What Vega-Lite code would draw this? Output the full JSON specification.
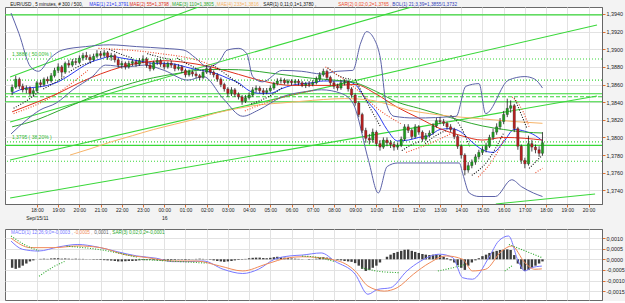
{
"$schema":"https://vega.github.io/schema/vega-lite/v6.json",
"background":"#f3f3f3",
"padding":{"left":3,"top":1,"right":0,"bottom":0},
"spacing":7,
"config":{"font":"Liberation Sans","view":{"stroke":"#6a6a6a","fill":"#ffffff"},
 "axis":{"labelOverlap":false,"labelBound":false,"labelFlush":false,"labelFontSize":5.4,"labelColor":"#222222","tickColor":"#e07030","tickSize":3,"gridColor":"#e2e2e2","domainColor":"#666666","labelPadding":1,"grid":true},
 "axisX":{"labelFontSize":5,"labelPadding":0,"labelLineHeight":8}},
"resolve":{"scale":{"color":"independent","x":"independent","y":"independent"}},
"datasets":{
"bars":[
{"t":16.83,"o":1.3852,"h":1.3860,"l":1.3848,"c":1.3857,"m":-0.0004},
{"t":17,"o":1.3857,"h":1.3870,"l":1.3855,"c":1.3866,"m":-0.00045},
{"t":17.17,"o":1.3866,"h":1.3868,"l":1.3855,"c":1.3858,"m":-0.0004},
{"t":17.33,"o":1.3858,"h":1.3861,"l":1.3851,"c":1.3854,"m":-0.0003},
{"t":17.5,"o":1.3854,"h":1.3859,"l":1.3850,"c":1.3856,"m":-0.0002},
{"t":17.67,"o":1.3856,"h":1.3858,"l":1.3847,"c":1.3850,"m":-0.0001},
{"t":17.83,"o":1.3850,"h":1.3856,"l":1.3846,"c":1.3853,"m":-0.00005},
{"t":18,"o":1.3853,"h":1.3864,"l":1.3851,"c":1.3862,"m":0},
{"t":18.17,"o":1.3862,"h":1.3865,"l":1.3857,"c":1.3860,"m":0.00002},
{"t":18.33,"o":1.3860,"h":1.3868,"l":1.3858,"c":1.3866,"m":0.00003},
{"t":18.5,"o":1.3866,"h":1.3869,"l":1.3861,"c":1.3864,"m":0.00002},
{"t":18.67,"o":1.3864,"h":1.3873,"l":1.3862,"c":1.3870,"m":0.00004},
{"t":18.83,"o":1.3870,"h":1.3879,"l":1.3868,"c":1.3876,"m":0.00005},
{"t":19,"o":1.3876,"h":1.3884,"l":1.3873,"c":1.3880,"m":0.00005},
{"t":19.17,"o":1.3880,"h":1.3882,"l":1.3868,"c":1.3874,"m":0.00003},
{"t":19.33,"o":1.3874,"h":1.3886,"l":1.3872,"c":1.3884,"m":0.00004},
{"t":19.5,"o":1.3884,"h":1.3888,"l":1.3879,"c":1.3882,"m":0.00003},
{"t":19.67,"o":1.3882,"h":1.3889,"l":1.3880,"c":1.3886,"m":0.00002},
{"t":19.83,"o":1.3886,"h":1.3890,"l":1.3882,"c":1.3885,"m":0.00003},
{"t":20,"o":1.3885,"h":1.3893,"l":1.3883,"c":1.3890,"m":0.00002},
{"t":20.17,"o":1.3890,"h":1.3896,"l":1.3887,"c":1.3893,"m":0.00002},
{"t":20.33,"o":1.3893,"h":1.3897,"l":1.3888,"c":1.3891,"m":0.00001},
{"t":20.5,"o":1.3891,"h":1.3894,"l":1.3885,"c":1.3888,"m":-0.00001},
{"t":20.67,"o":1.3888,"h":1.3895,"l":1.3886,"c":1.3892,"m":-0.00002},
{"t":20.83,"o":1.3892,"h":1.3899,"l":1.3890,"c":1.3895,"m":-0.00002},
{"t":21,"o":1.3895,"h":1.3898,"l":1.3890,"c":1.3893,"m":-0.00003},
{"t":21.17,"o":1.3893,"h":1.3899,"l":1.3891,"c":1.3896,"m":-0.00004},
{"t":21.33,"o":1.3896,"h":1.3898,"l":1.3888,"c":1.3891,"m":-0.00005},
{"t":21.5,"o":1.3891,"h":1.3896,"l":1.3887,"c":1.3893,"m":-0.00006},
{"t":21.67,"o":1.3893,"h":1.3895,"l":1.3885,"c":1.3888,"m":-0.00008},
{"t":21.83,"o":1.3888,"h":1.3890,"l":1.3879,"c":1.3882,"m":-0.0001},
{"t":22,"o":1.3882,"h":1.3887,"l":1.3878,"c":1.3884,"m":-0.0001},
{"t":22.17,"o":1.3884,"h":1.3886,"l":1.3877,"c":1.3880,"m":-0.00009},
{"t":22.33,"o":1.3880,"h":1.3887,"l":1.3878,"c":1.3884,"m":-0.00008},
{"t":22.5,"o":1.3884,"h":1.3889,"l":1.3881,"c":1.3886,"m":-0.00008},
{"t":22.67,"o":1.3886,"h":1.3888,"l":1.3880,"c":1.3883,"m":-0.00007},
{"t":22.83,"o":1.3883,"h":1.3890,"l":1.3881,"c":1.3887,"m":-0.00005},
{"t":23,"o":1.3887,"h":1.3893,"l":1.3884,"c":1.3889,"m":-0.00004},
{"t":23.17,"o":1.3889,"h":1.3891,"l":1.3879,"c":1.3882,"m":-0.00004},
{"t":23.33,"o":1.3882,"h":1.3885,"l":1.3875,"c":1.3878,"m":-0.00003},
{"t":23.5,"o":1.3878,"h":1.3887,"l":1.3876,"c":1.3885,"m":-0.00004},
{"t":23.67,"o":1.3885,"h":1.3890,"l":1.3882,"c":1.3887,"m":-0.00005},
{"t":23.83,"o":1.3887,"h":1.3889,"l":1.3880,"c":1.3883,"m":-0.00006},
{"t":24,"o":1.3883,"h":1.3886,"l":1.3877,"c":1.3880,"m":-0.00006},
{"t":24.17,"o":1.3880,"h":1.3886,"l":1.3878,"c":1.3884,"m":-0.00005},
{"t":24.33,"o":1.3884,"h":1.3887,"l":1.3879,"c":1.3882,"m":-0.00004},
{"t":24.5,"o":1.3882,"h":1.3884,"l":1.3875,"c":1.3878,"m":-0.00003},
{"t":24.67,"o":1.3878,"h":1.3883,"l":1.3876,"c":1.3880,"m":-0.00002},
{"t":24.83,"o":1.3880,"h":1.3882,"l":1.3873,"c":1.3876,"m":-0.00002},
{"t":25,"o":1.3876,"h":1.3878,"l":1.3868,"c":1.3871,"m":-0.00003},
{"t":25.17,"o":1.3871,"h":1.3877,"l":1.3869,"c":1.3874,"m":-0.00002},
{"t":25.33,"o":1.3874,"h":1.3876,"l":1.3869,"c":1.3872,"m":0.00001},
{"t":25.5,"o":1.3872,"h":1.3875,"l":1.3867,"c":1.3870,"m":0.00002},
{"t":25.67,"o":1.3870,"h":1.3872,"l":1.3865,"c":1.3868,"m":0.00003},
{"t":25.83,"o":1.3868,"h":1.3877,"l":1.3866,"c":1.3874,"m":0.00002},
{"t":26,"o":1.3874,"h":1.3882,"l":1.3872,"c":1.3878,"m":0.00001},
{"t":26.17,"o":1.3878,"h":1.3880,"l":1.3871,"c":1.3874,"m":-0.00002},
{"t":26.33,"o":1.3874,"h":1.3876,"l":1.3868,"c":1.3871,"m":-0.00005},
{"t":26.5,"o":1.3871,"h":1.3873,"l":1.3863,"c":1.3866,"m":-0.00008},
{"t":26.67,"o":1.3866,"h":1.3868,"l":1.3857,"c":1.3860,"m":-0.0001},
{"t":26.83,"o":1.3860,"h":1.3862,"l":1.3852,"c":1.3855,"m":-0.00012},
{"t":27,"o":1.3855,"h":1.3857,"l":1.3846,"c":1.3850,"m":-0.0001},
{"t":27.17,"o":1.3850,"h":1.3857,"l":1.3847,"c":1.3854,"m":-0.00008},
{"t":27.33,"o":1.3854,"h":1.3856,"l":1.3846,"c":1.3849,"m":-0.00005},
{"t":27.5,"o":1.3849,"h":1.3851,"l":1.3843,"c":1.3846,"m":-0.00003},
{"t":27.67,"o":1.3846,"h":1.3848,"l":1.3837,"c":1.3841,"m":-0.00002},
{"t":27.83,"o":1.3841,"h":1.3848,"l":1.3839,"c":1.3845,"m":0.00002},
{"t":28,"o":1.3845,"h":1.3851,"l":1.3843,"c":1.3848,"m":0.00005},
{"t":28.17,"o":1.3848,"h":1.3857,"l":1.3846,"c":1.3854,"m":0.00007},
{"t":28.33,"o":1.3854,"h":1.3859,"l":1.3851,"c":1.3856,"m":0.00008},
{"t":28.5,"o":1.3856,"h":1.3858,"l":1.3850,"c":1.3853,"m":0.00008},
{"t":28.67,"o":1.3853,"h":1.3856,"l":1.3848,"c":1.3851,"m":0.00006},
{"t":28.83,"o":1.3851,"h":1.3856,"l":1.3849,"c":1.3853,"m":0.00005},
{"t":29,"o":1.3853,"h":1.3859,"l":1.3851,"c":1.3856,"m":0.00007},
{"t":29.17,"o":1.3856,"h":1.3863,"l":1.3854,"c":1.3861,"m":0.0001},
{"t":29.33,"o":1.3861,"h":1.3867,"l":1.3859,"c":1.3864,"m":0.00012},
{"t":29.5,"o":1.3864,"h":1.3868,"l":1.3861,"c":1.3865,"m":0.0001},
{"t":29.67,"o":1.3865,"h":1.3867,"l":1.3860,"c":1.3862,"m":0.00008},
{"t":29.83,"o":1.3862,"h":1.3866,"l":1.3860,"c":1.3864,"m":0.00006},
{"t":30,"o":1.3864,"h":1.3866,"l":1.3859,"c":1.3862,"m":0.00004},
{"t":30.17,"o":1.3862,"h":1.3866,"l":1.3860,"c":1.3864,"m":0.00003},
{"t":30.33,"o":1.3864,"h":1.3866,"l":1.3859,"c":1.3862,"m":0.00002},
{"t":30.5,"o":1.3862,"h":1.3864,"l":1.3857,"c":1.3859,"m":0.00001},
{"t":30.67,"o":1.3859,"h":1.3863,"l":1.3856,"c":1.3861,"m":0},
{"t":30.83,"o":1.3861,"h":1.3864,"l":1.3857,"c":1.3860,"m":-0.00002},
{"t":31,"o":1.3860,"h":1.3865,"l":1.3858,"c":1.3862,"m":-0.00001},
{"t":31.17,"o":1.3862,"h":1.3869,"l":1.3860,"c":1.3866,"m":0.00003},
{"t":31.33,"o":1.3866,"h":1.3874,"l":1.3864,"c":1.3871,"m":0.00008},
{"t":31.5,"o":1.3871,"h":1.3878,"l":1.3869,"c":1.3875,"m":0.0001},
{"t":31.67,"o":1.3875,"h":1.3877,"l":1.3865,"c":1.3868,"m":0.00008},
{"t":31.83,"o":1.3868,"h":1.3870,"l":1.3859,"c":1.3862,"m":0.00004},
{"t":32,"o":1.3862,"h":1.3864,"l":1.3855,"c":1.3858,"m":0},
{"t":32.17,"o":1.3858,"h":1.3861,"l":1.3853,"c":1.3856,"m":-0.00003},
{"t":32.33,"o":1.3856,"h":1.3865,"l":1.3854,"c":1.3862,"m":-0.00005},
{"t":32.5,"o":1.3862,"h":1.3866,"l":1.3859,"c":1.3863,"m":-0.00008},
{"t":32.67,"o":1.3863,"h":1.3865,"l":1.3852,"c":1.3855,"m":-0.0001},
{"t":32.83,"o":1.3855,"h":1.3857,"l":1.3845,"c":1.3848,"m":-0.00012},
{"t":33,"o":1.3848,"h":1.3850,"l":1.3836,"c":1.3839,"m":-0.00018},
{"t":33.17,"o":1.3839,"h":1.3841,"l":1.3823,"c":1.3826,"m":-0.0003},
{"t":33.33,"o":1.3826,"h":1.3828,"l":1.3805,"c":1.3808,"m":-0.00045},
{"t":33.5,"o":1.3808,"h":1.3811,"l":1.3794,"c":1.3799,"m":-0.00055},
{"t":33.67,"o":1.3799,"h":1.3804,"l":1.3792,"c":1.3797,"m":-0.0005},
{"t":33.83,"o":1.3797,"h":1.3810,"l":1.3794,"c":1.3806,"m":-0.0004},
{"t":34,"o":1.3806,"h":1.3808,"l":1.3790,"c":1.3793,"m":-0.0003},
{"t":34.17,"o":1.3793,"h":1.3797,"l":1.3785,"c":1.3789,"m":-0.00015},
{"t":34.33,"o":1.3789,"h":1.3800,"l":1.3787,"c":1.3797,"m":0},
{"t":34.5,"o":1.3797,"h":1.3800,"l":1.3790,"c":1.3794,"m":0.00012},
{"t":34.67,"o":1.3794,"h":1.3797,"l":1.3788,"c":1.3792,"m":0.00022},
{"t":34.83,"o":1.3792,"h":1.3795,"l":1.3785,"c":1.3789,"m":0.0003},
{"t":35,"o":1.3789,"h":1.3794,"l":1.3786,"c":1.3791,"m":0.00035},
{"t":35.17,"o":1.3791,"h":1.3801,"l":1.3789,"c":1.3798,"m":0.0004},
{"t":35.33,"o":1.3798,"h":1.3815,"l":1.3796,"c":1.3812,"m":0.00045},
{"t":35.5,"o":1.3812,"h":1.3815,"l":1.3805,"c":1.3808,"m":0.00046},
{"t":35.67,"o":1.3808,"h":1.3810,"l":1.3798,"c":1.3801,"m":0.0004},
{"t":35.83,"o":1.3801,"h":1.3815,"l":1.3799,"c":1.3812,"m":0.00035},
{"t":36,"o":1.3812,"h":1.3814,"l":1.3803,"c":1.3806,"m":0.0003},
{"t":36.17,"o":1.3806,"h":1.3808,"l":1.3795,"c":1.3798,"m":0.00025},
{"t":36.33,"o":1.3798,"h":1.3805,"l":1.3796,"c":1.3802,"m":0.00022},
{"t":36.5,"o":1.3802,"h":1.3808,"l":1.3800,"c":1.3805,"m":0.0002},
{"t":36.67,"o":1.3805,"h":1.3816,"l":1.3803,"c":1.3813,"m":0.00022},
{"t":36.83,"o":1.3813,"h":1.3822,"l":1.3811,"c":1.3819,"m":0.00024},
{"t":37,"o":1.3819,"h":1.3823,"l":1.3815,"c":1.3818,"m":0.0002},
{"t":37.17,"o":1.3818,"h":1.3821,"l":1.3813,"c":1.3816,"m":0.00012},
{"t":37.33,"o":1.3816,"h":1.3818,"l":1.3809,"c":1.3812,"m":0.00005},
{"t":37.5,"o":1.3812,"h":1.3815,"l":1.3806,"c":1.3809,"m":-0.00005},
{"t":37.67,"o":1.3809,"h":1.3811,"l":1.3798,"c":1.3801,"m":-0.00015},
{"t":37.83,"o":1.3801,"h":1.3803,"l":1.3787,"c":1.3790,"m":-0.00028},
{"t":38,"o":1.3790,"h":1.3792,"l":1.3776,"c":1.3780,"m":-0.0004},
{"t":38.17,"o":1.3780,"h":1.3782,"l":1.3757,"c":1.3763,"m":-0.0005},
{"t":38.33,"o":1.3763,"h":1.3772,"l":1.3760,"c":1.3768,"m":-0.0003},
{"t":38.5,"o":1.3768,"h":1.3775,"l":1.3765,"c":1.3772,"m":-0.00015},
{"t":38.67,"o":1.3772,"h":1.3781,"l":1.3769,"c":1.3778,"m":-0.00005},
{"t":38.83,"o":1.3778,"h":1.3786,"l":1.3775,"c":1.3783,"m":0.00005},
{"t":39,"o":1.3783,"h":1.3790,"l":1.3780,"c":1.3786,"m":0.00015},
{"t":39.17,"o":1.3786,"h":1.3794,"l":1.3783,"c":1.3790,"m":0.00022},
{"t":39.33,"o":1.3790,"h":1.3803,"l":1.3788,"c":1.3800,"m":0.0003},
{"t":39.5,"o":1.3800,"h":1.3810,"l":1.3797,"c":1.3806,"m":0.00036},
{"t":39.67,"o":1.3806,"h":1.3816,"l":1.3803,"c":1.3812,"m":0.0004},
{"t":39.83,"o":1.3812,"h":1.3822,"l":1.3809,"c":1.3818,"m":0.00044},
{"t":40,"o":1.3818,"h":1.3830,"l":1.3815,"c":1.3826,"m":0.00046},
{"t":40.17,"o":1.3826,"h":1.3844,"l":1.3823,"c":1.3833,"m":0.00047},
{"t":40.33,"o":1.3833,"h":1.3842,"l":1.3828,"c":1.3836,"m":0.00044},
{"t":40.5,"o":1.3836,"h":1.3838,"l":1.3806,"c":1.3810,"m":0.0002},
{"t":40.67,"o":1.3810,"h":1.3812,"l":1.3786,"c":1.3790,"m":-0.0002},
{"t":40.83,"o":1.3790,"h":1.3792,"l":1.3770,"c":1.3774,"m":-0.00045},
{"t":41,"o":1.3774,"h":1.3777,"l":1.3765,"c":1.3770,"m":-0.00055},
{"t":41.17,"o":1.3770,"h":1.3802,"l":1.3768,"c":1.3793,"m":-0.0005},
{"t":41.33,"o":1.3793,"h":1.3797,"l":1.3784,"c":1.3789,"m":-0.0004},
{"t":41.5,"o":1.3789,"h":1.3792,"l":1.3782,"c":1.3786,"m":-0.0003},
{"t":41.67,"o":1.3786,"h":1.3790,"l":1.3778,"c":1.3782,"m":-0.0002},
{"t":41.83,"o":1.3782,"h":1.3806,"l":1.3780,"c":1.3794,"m":-0.0001}
],
"ind":[
{"s":"MA21","t":16.83,"v":1.3850},{"s":"MA21","t":17.5,"v":1.3856},{"s":"MA21","t":18,"v":1.3857},{"s":"MA21","t":18.5,"v":1.3859},{"s":"MA21","t":19,"v":1.3863},{"s":"MA21","t":19.5,"v":1.3870},{"s":"MA21","t":20,"v":1.3878},{"s":"MA21","t":20.5,"v":1.3885},{"s":"MA21","t":21,"v":1.3889},{"s":"MA21","t":21.5,"v":1.3892},{"s":"MA21","t":22,"v":1.3890},{"s":"MA21","t":22.5,"v":1.3888},{"s":"MA21","t":23,"v":1.3886},{"s":"MA21","t":23.5,"v":1.3884},{"s":"MA21","t":24,"v":1.3884},{"s":"MA21","t":24.5,"v":1.3883},{"s":"MA21","t":25,"v":1.3880},{"s":"MA21","t":25.5,"v":1.3877},{"s":"MA21","t":26,"v":1.3875},{"s":"MA21","t":26.5,"v":1.3872},{"s":"MA21","t":27,"v":1.3867},{"s":"MA21","t":27.5,"v":1.3862},{"s":"MA21","t":28,"v":1.3853},{"s":"MA21","t":28.5,"v":1.3850},{"s":"MA21","t":29,"v":1.3850},{"s":"MA21","t":29.5,"v":1.3855},{"s":"MA21","t":30,"v":1.3859},{"s":"MA21","t":30.5,"v":1.3861},{"s":"MA21","t":31,"v":1.3862},{"s":"MA21","t":31.5,"v":1.3864},{"s":"MA21","t":32,"v":1.3864},{"s":"MA21","t":32.5,"v":1.3864},{"s":"MA21","t":33,"v":1.3860},{"s":"MA21","t":33.5,"v":1.3843},{"s":"MA21","t":34,"v":1.3829},{"s":"MA21","t":34.5,"v":1.3809},{"s":"MA21","t":35,"v":1.3796},{"s":"MA21","t":35.5,"v":1.3797},{"s":"MA21","t":36,"v":1.3800},{"s":"MA21","t":36.5,"v":1.3802},{"s":"MA21","t":37,"v":1.3809},{"s":"MA21","t":37.5,"v":1.3810},{"s":"MA21","t":38,"v":1.3806},{"s":"MA21","t":38.5,"v":1.3795},{"s":"MA21","t":39,"v":1.3786},{"s":"MA21","t":39.5,"v":1.3783},{"s":"MA21","t":40,"v":1.3795},{"s":"MA21","t":40.5,"v":1.3809},{"s":"MA21","t":41,"v":1.3807},{"s":"MA21","t":41.5,"v":1.3802},{"s":"MA21","t":41.83,"v":1.3796},
{"s":"MA55","t":16.83,"v":1.3829},{"s":"MA55","t":18,"v":1.3840},{"s":"MA55","t":19,"v":1.3850},{"s":"MA55","t":20,"v":1.3862},{"s":"MA55","t":21,"v":1.3872},{"s":"MA55","t":22,"v":1.3880},{"s":"MA55","t":23,"v":1.3885},{"s":"MA55","t":24,"v":1.3887},{"s":"MA55","t":25,"v":1.3885},{"s":"MA55","t":26,"v":1.3881},{"s":"MA55","t":27,"v":1.3875},{"s":"MA55","t":28,"v":1.3868},{"s":"MA55","t":29,"v":1.3862},{"s":"MA55","t":30,"v":1.3859},{"s":"MA55","t":31,"v":1.3859},{"s":"MA55","t":32,"v":1.3859},{"s":"MA55","t":33,"v":1.3860},{"s":"MA55","t":34,"v":1.3849},{"s":"MA55","t":35,"v":1.3834},{"s":"MA55","t":36,"v":1.3822},{"s":"MA55","t":37,"v":1.3810},{"s":"MA55","t":38,"v":1.3802},{"s":"MA55","t":39,"v":1.3797},{"s":"MA55","t":40,"v":1.3800},{"s":"MA55","t":41,"v":1.3799},{"s":"MA55","t":41.83,"v":1.3797},
{"s":"MA110","t":16.83,"v":1.3812},{"s":"MA110","t":18,"v":1.3820},{"s":"MA110","t":19,"v":1.3830},{"s":"MA110","t":20,"v":1.3840},{"s":"MA110","t":21,"v":1.3850},{"s":"MA110","t":22,"v":1.3858},{"s":"MA110","t":23,"v":1.3865},{"s":"MA110","t":24,"v":1.3870},{"s":"MA110","t":25,"v":1.3874},{"s":"MA110","t":26,"v":1.3877},{"s":"MA110","t":27,"v":1.3877},{"s":"MA110","t":28,"v":1.3876},{"s":"MA110","t":29,"v":1.3873},{"s":"MA110","t":30,"v":1.3870},{"s":"MA110","t":31,"v":1.3867},{"s":"MA110","t":32,"v":1.3865},{"s":"MA110","t":33,"v":1.3862},{"s":"MA110","t":34,"v":1.3852},{"s":"MA110","t":35,"v":1.3840},{"s":"MA110","t":36,"v":1.3833},{"s":"MA110","t":37,"v":1.3826},{"s":"MA110","t":38,"v":1.3819},{"s":"MA110","t":39,"v":1.3813},{"s":"MA110","t":40,"v":1.3809},{"s":"MA110","t":41,"v":1.3806},{"s":"MA110","t":41.83,"v":1.3805},
{"s":"MA233","t":19.56,"v":1.3780},{"s":"MA233","t":20.5,"v":1.3787},{"s":"MA233","t":21.5,"v":1.3795},{"s":"MA233","t":22.5,"v":1.3802},{"s":"MA233","t":23.5,"v":1.3809},{"s":"MA233","t":24.5,"v":1.3815},{"s":"MA233","t":25.5,"v":1.3821},{"s":"MA233","t":26.5,"v":1.3828},{"s":"MA233","t":27.5,"v":1.3833},{"s":"MA233","t":28.5,"v":1.3837},{"s":"MA233","t":29.5,"v":1.3839},{"s":"MA233","t":30.5,"v":1.3841},{"s":"MA233","t":31.5,"v":1.3843},{"s":"MA233","t":32.5,"v":1.3844},{"s":"MA233","t":33.5,"v":1.3843},{"s":"MA233","t":34.5,"v":1.3838},{"s":"MA233","t":35.5,"v":1.3831},{"s":"MA233","t":36.5,"v":1.3827},{"s":"MA233","t":37.5,"v":1.3824},{"s":"MA233","t":38.5,"v":1.3822},{"s":"MA233","t":39.5,"v":1.3820},{"s":"MA233","t":40.5,"v":1.3818},{"s":"MA233","t":41.83,"v":1.3816},
{"s":"BBU","t":16.78,"v":1.3941},{"s":"BBU","t":17.15,"v":1.3918},{"s":"BBU","t":17.7,"v":1.3880},{"s":"BBU","t":18.07,"v":1.3875},{"s":"BBU","t":18.63,"v":1.3890},{"s":"BBU","t":19.19,"v":1.3899},{"s":"BBU","t":20.3,"v":1.3903},{"s":"BBU","t":21.41,"v":1.3905},{"s":"BBU","t":22.7,"v":1.3903},{"s":"BBU","t":24,"v":1.3901},{"s":"BBU","t":24.93,"v":1.3899},{"s":"BBU","t":25.48,"v":1.3890},{"s":"BBU","t":26.04,"v":1.3880},{"s":"BBU","t":26.59,"v":1.3886},{"s":"BBU","t":26.96,"v":1.3899},{"s":"BBU","t":27.52,"v":1.3901},{"s":"BBU","t":27.89,"v":1.3895},{"s":"BBU","t":28.17,"v":1.3869},{"s":"BBU","t":28.63,"v":1.3863},{"s":"BBU","t":29.56,"v":1.3876},{"s":"BBU","t":30.48,"v":1.3875},{"s":"BBU","t":31.41,"v":1.3872},{"s":"BBU","t":32.15,"v":1.3875},{"s":"BBU","t":32.89,"v":1.3876},{"s":"BBU","t":33.26,"v":1.3907},{"s":"BBU","t":33.54,"v":1.3920},{"s":"BBU","t":33.91,"v":1.3911},{"s":"BBU","t":34.2,"v":1.3888},{"s":"BBU","t":34.45,"v":1.3840},{"s":"BBU","t":34.83,"v":1.3824},{"s":"BBU","t":35.83,"v":1.3822},{"s":"BBU","t":37.76,"v":1.3824},{"s":"BBU","t":38.22,"v":1.3858},{"s":"BBU","t":38.84,"v":1.3861},{"s":"BBU","t":39.15,"v":1.3827},{"s":"BBU","t":40.23,"v":1.3865},{"s":"BBU","t":41.0,"v":1.3869},{"s":"BBU","t":41.47,"v":1.3866},{"s":"BBU","t":41.83,"v":1.3856},
{"s":"BBL","t":16.78,"v":1.3804},{"s":"BBL","t":17.52,"v":1.3820},{"s":"BBL","t":18.14,"v":1.3831},{"s":"BBL","t":18.91,"v":1.3839},{"s":"BBL","t":19.69,"v":1.3854},{"s":"BBL","t":20.61,"v":1.3869},{"s":"BBL","t":21.23,"v":1.3882},{"s":"BBL","t":22.2,"v":1.3880},{"s":"BBL","t":23.07,"v":1.3882},{"s":"BBL","t":24,"v":1.3876},{"s":"BBL","t":25.11,"v":1.3865},{"s":"BBL","t":25.85,"v":1.3869},{"s":"BBL","t":26.78,"v":1.3844},{"s":"BBL","t":27.7,"v":1.3824},{"s":"BBL","t":28.44,"v":1.3831},{"s":"BBL","t":29.56,"v":1.3846},{"s":"BBL","t":30.67,"v":1.3852},{"s":"BBL","t":31.41,"v":1.3854},{"s":"BBL","t":32.33,"v":1.3850},{"s":"BBL","t":32.89,"v":1.3839},{"s":"BBL","t":33.63,"v":1.3774},{"s":"BBL","t":34.09,"v":1.3737},{"s":"BBL","t":34.51,"v":1.3767},{"s":"BBL","t":35,"v":1.3771},{"s":"BBL","t":37.91,"v":1.3771},{"s":"BBL","t":38.07,"v":1.3759},{"s":"BBL","t":38.38,"v":1.3737},{"s":"BBL","t":38.84,"v":1.3733},{"s":"BBL","t":39.61,"v":1.3733},{"s":"BBL","t":40.38,"v":1.3752},{"s":"BBL","t":40.85,"v":1.3744},{"s":"BBL","t":41.4,"v":1.3737},{"s":"BBL","t":41.83,"v":1.3733}
],
"sar":[
{"s":"SAR1","g":1,"t":16.9,"v":1.3833},{"s":"SAR1","g":1,"t":17.6,"v":1.3843},{"s":"SAR1","g":1,"t":18.1,"v":1.3852},
{"s":"SAR1","g":2,"t":18.3,"v":1.3855},{"s":"SAR1","g":2,"t":18.9,"v":1.3863},{"s":"SAR1","g":2,"t":19.3,"v":1.3869},
{"s":"SAR1","g":3,"t":19.5,"v":1.3874},{"s":"SAR1","g":3,"t":20.1,"v":1.3882},{"s":"SAR1","g":3,"t":20.6,"v":1.3885},
{"s":"SAR1","g":4,"t":21.4,"v":1.3900},{"s":"SAR1","g":4,"t":22,"v":1.3894},{"s":"SAR1","g":4,"t":22.5,"v":1.3890},
{"s":"SAR1","g":5,"t":23.2,"v":1.3895},{"s":"SAR1","g":5,"t":23.8,"v":1.3891},{"s":"SAR1","g":5,"t":24.4,"v":1.3888},
{"s":"SAR1","g":6,"t":24.6,"v":1.3890},{"s":"SAR1","g":6,"t":25.2,"v":1.3882},{"s":"SAR1","g":6,"t":25.7,"v":1.3876},
{"s":"SAR1","g":7,"t":26.3,"v":1.3882},{"s":"SAR1","g":7,"t":27,"v":1.3870},{"s":"SAR1","g":7,"t":27.7,"v":1.3857},
{"s":"SAR1","g":8,"t":28.1,"v":1.3838},{"s":"SAR1","g":8,"t":28.9,"v":1.3846},{"s":"SAR1","g":8,"t":29.6,"v":1.3857},
{"s":"SAR1","g":9,"t":31.7,"v":1.3879},{"s":"SAR1","g":9,"t":32.3,"v":1.3869},{"s":"SAR1","g":9,"t":32.8,"v":1.3866},
{"s":"SAR1","g":10,"t":33,"v":1.3866},{"s":"SAR1","g":10,"t":33.6,"v":1.3838},{"s":"SAR1","g":10,"t":34.2,"v":1.3812},
{"s":"SAR1","g":11,"t":35.2,"v":1.3785},{"s":"SAR1","g":11,"t":35.6,"v":1.3791},{"s":"SAR1","g":11,"t":36,"v":1.3795},
{"s":"SAR1","g":12,"t":36.3,"v":1.3793},{"s":"SAR1","g":12,"t":36.8,"v":1.3802},{"s":"SAR1","g":12,"t":37.3,"v":1.3808},
{"s":"SAR1","g":13,"t":37.5,"v":1.3825},{"s":"SAR1","g":13,"t":37.9,"v":1.3815},{"s":"SAR1","g":13,"t":38.4,"v":1.3790},
{"s":"SAR1","g":14,"t":38.5,"v":1.3757},{"s":"SAR1","g":14,"t":39.2,"v":1.3772},{"s":"SAR1","g":14,"t":40,"v":1.3805},
{"s":"SAR1","g":15,"t":40.5,"v":1.3845},{"s":"SAR1","g":15,"t":40.9,"v":1.3822},{"s":"SAR1","g":15,"t":41.1,"v":1.3810},
{"s":"SAR1","g":16,"t":41.2,"v":1.3765},{"s":"SAR1","g":16,"t":41.5,"v":1.3772},{"s":"SAR1","g":16,"t":41.83,"v":1.3780},
{"s":"SAR2","g":21,"t":16.9,"v":1.3827},{"s":"SAR2","g":21,"t":18.7,"v":1.3846},{"s":"SAR2","g":21,"t":20.4,"v":1.3876},
{"s":"SAR2","g":22,"t":20.9,"v":1.3901},{"s":"SAR2","g":22,"t":23.5,"v":1.3896},{"s":"SAR2","g":22,"t":26,"v":1.3884},{"s":"SAR2","g":22,"t":26.6,"v":1.3876},
{"s":"SAR2","g":23,"t":27.8,"v":1.3830},{"s":"SAR2","g":23,"t":29.5,"v":1.3845},{"s":"SAR2","g":23,"t":31,"v":1.3853},
{"s":"SAR2","g":24,"t":31.6,"v":1.3880},{"s":"SAR2","g":24,"t":33,"v":1.3856},{"s":"SAR2","g":24,"t":34.2,"v":1.3830},{"s":"SAR2","g":24,"t":35.2,"v":1.3815},
{"s":"SAR2","g":25,"t":35.4,"v":1.3783},{"s":"SAR2","g":25,"t":36.4,"v":1.3792},{"s":"SAR2","g":25,"t":37.5,"v":1.3804},
{"s":"SAR2","g":27,"t":38.8,"v":1.3755},{"s":"SAR2","g":27,"t":39.5,"v":1.3775},{"s":"SAR2","g":27,"t":40.1,"v":1.3801},
{"s":"SAR2","g":28,"t":40.4,"v":1.3846},{"s":"SAR2","g":28,"t":40.9,"v":1.3830},{"s":"SAR2","g":28,"t":41.2,"v":1.3812},
{"s":"SAR2","g":29,"t":41.5,"v":1.3760},{"s":"SAR2","g":29,"t":41.83,"v":1.3765}
],
"hl":[
{"p":1.3939,"k":"solid"},{"p":1.3889,"k":"dot"},{"p":1.3865,"k":"dot"},{"p":1.38496,"k":"solid"},{"p":1.38462,"k":"dash"},{"p":1.38405,"k":"solid"},{"p":1.3795,"k":"dot"},{"p":1.3791,"k":"solid"},{"p":1.3773,"k":"dot"}
],
"tl":[
{"g":1,"t":16.735,"v":1.38686},{"g":1,"t":25.864,"v":1.39502},
{"g":2,"t":16.735,"v":1.38175},{"g":2,"t":35.71,"v":1.39483},
{"g":3,"t":16.735,"v":1.37744},{"g":3,"t":44.4,"v":1.39275},
{"g":4,"t":16.735,"v":1.37313},{"g":4,"t":44.4,"v":1.38470},
{"g":5,"t":39.63,"v":1.37245},{"g":5,"t":44.31,"v":1.37359}
],
"hdr":[
{"t":16.74,"s":"SAR1","txt":"EUR/USD , 5 minutes, # 300 / 500,"},
{"t":20.46,"s":"MA21","txt":"MAE(1) 21=1,3791 ,"},
{"t":22.36,"s":"MA55","txt":"MAE(2) 55=1,3798 ,"},
{"t":24.37,"s":"MA110","txt":"MAE(3) 110=1,3805 ,"},
{"t":26.48,"s":"MA233","txt":"MAE(4) 233=1,3816 ,"},
{"t":28.67,"s":"SAR1","txt":"SAR(1) 0,11;0,1=1,3780 ,"},
{"t":32.2,"s":"SAR2","txt":"SAR(2) 0,02;0,2=1,3765 ,"},
{"t":34.75,"s":"BOL","txt":"BOL(1) 21;3,39=1,3855/1,3732"}
],
"fib":[
{"t":16.82,"p":1.3889,"txt":"1,3888 ( 50,00% )"},
{"t":16.82,"p":1.3795,"txt":"1,3795 ( 38,20% )"}
],
"macd":[
{"q":"MACD","t":16.78,"v":0.00086},{"q":"MACD","t":17.33,"v":0.00047},{"q":"MACD","t":18.07,"v":0.00039},{"q":"MACD","t":19,"v":0.00058},{"q":"MACD","t":19.93,"v":0.0007},{"q":"MACD","t":20.85,"v":0.00058},{"q":"MACD","t":21.78,"v":0.00036},{"q":"MACD","t":22.7,"v":0.00016},{"q":"MACD","t":23.63,"v":0.00005},{"q":"MACD","t":24.37,"v":-0.00011},{"q":"MACD","t":25.1,"v":-0.00011},{"q":"MACD","t":25.85,"v":-0.00008},{"q":"MACD","t":26.78,"v":-0.00047},{"q":"MACD","t":27.7,"v":-0.00067},{"q":"MACD","t":28.44,"v":-0.00047},{"q":"MACD","t":29.19,"v":0},{"q":"MACD","t":29.93,"v":0.00016},{"q":"MACD","t":30.5,"v":0.0002},{"q":"MACD","t":31.4,"v":0.0003},{"q":"MACD","t":32.06,"v":-0.0001},{"q":"MACD","t":33,"v":-0.0007},{"q":"MACD","t":33.6,"v":-0.00165},{"q":"MACD","t":34.06,"v":-0.00142},{"q":"MACD","t":34.67,"v":-0.00134},{"q":"MACD","t":35.44,"v":-0.00055},{"q":"MACD","t":36.06,"v":-0.0001},{"q":"MACD","t":36.99,"v":0.00024},{"q":"MACD","t":37.6,"v":0.00008},{"q":"MACD","t":38.07,"v":-0.00087},{"q":"MACD","t":38.53,"v":-0.00094},{"q":"MACD","t":39.3,"v":0.00008},{"q":"MACD","t":39.76,"v":0.00086},{"q":"MACD","t":40.23,"v":0.0011},{"q":"MACD","t":40.69,"v":-0.0001},{"q":"MACD","t":41,"v":-0.00055},{"q":"MACD","t":41.3,"v":-0.0004},{"q":"MACD","t":41.8,"v":-0.00032},
{"q":"SIG","t":16.78,"v":0.001},{"q":"SIG","t":17.7,"v":0.00055},{"q":"SIG","t":18.8,"v":0.00055},{"q":"SIG","t":19.93,"v":0.00063},{"q":"SIG","t":21,"v":0.00055},{"q":"SIG","t":22.1,"v":0.00023},{"q":"SIG","t":23.2,"v":0.00008},{"q":"SIG","t":24.4,"v":-0.00008},{"q":"SIG","t":25.5,"v":-0.00008},{"q":"SIG","t":26.6,"v":-0.00031},{"q":"SIG","t":27.7,"v":-0.00055},{"q":"SIG","t":28.8,"v":-0.00023},{"q":"SIG","t":29.9,"v":0.00008},{"q":"SIG","t":30.52,"v":0.00012},{"q":"SIG","t":32.06,"v":-0.00004},{"q":"SIG","t":33,"v":-0.00055},{"q":"SIG","t":33.6,"v":-0.00126},{"q":"SIG","t":34.37,"v":-0.0015},{"q":"SIG","t":34.98,"v":-0.00134},{"q":"SIG","t":35.75,"v":-0.0007},{"q":"SIG","t":36.52,"v":-0.00016},{"q":"SIG","t":37.29,"v":0.00016},{"q":"SIG","t":38.07,"v":0},{"q":"SIG","t":38.53,"v":-0.00055},{"q":"SIG","t":39.15,"v":-0.00047},{"q":"SIG","t":39.91,"v":0.00039},{"q":"SIG","t":40.38,"v":0.00063},{"q":"SIG","t":41,"v":-0.00016},{"q":"SIG","t":41.47,"v":-0.00047},{"q":"SIG","t":41.8,"v":-0.00045}
],
"sar3":[
{"g":1,"t":16.78,"v":0.0011},{"g":1,"t":17.4,"v":0.0007},{"g":1,"t":18.1,"v":0.0004},
{"g":2,"t":18.1,"v":-0.0008},{"g":2,"t":18.7,"v":-0.0004},{"g":2,"t":19.3,"v":-0.0001},
{"g":3,"t":19.4,"v":0.00062},{"g":3,"t":21,"v":0.00045},{"g":3,"t":22.7,"v":0.0001},
{"g":4,"t":22.8,"v":0},{"g":4,"t":24.6,"v":-0.0001},{"g":4,"t":26,"v":-0.00018},
{"g":5,"t":30.5,"v":0.00015},{"g":5,"t":31.2,"v":0.0001},{"g":5,"t":32,"v":-0.0001},
{"g":6,"t":33.3,"v":-0.0004},{"g":6,"t":34.2,"v":-0.00058},{"g":6,"t":35.1,"v":-0.00063},
{"g":7,"t":36.9,"v":-0.00055},{"g":7,"t":37.6,"v":-0.0004},{"g":7,"t":38.2,"v":-0.00024},
{"g":8,"t":40.05,"v":-0.00055},{"g":8,"t":40.4,"v":-0.0003},
{"g":9,"t":40.25,"v":0.0007},{"g":9,"t":41,"v":0.0004},{"g":9,"t":41.8,"v":0.00008}
],
"mhdr":[
{"t":16.78,"q":"MACD","txt":"MACD(1) 12;26;9;0=-0,0003 ,"},
{"t":19.75,"q":"SIG","txt":"-0,0005 ,"},
{"t":20.7,"q":"HIST","txt":"0,0001 ,"},
{"t":21.55,"q":"SAR3","txt":"SAR(3) 0,02;0,2=-0,0001"}
]
},
"vconcat":[
{
"width":597,"height":197,
"layer":[
{"data":{"name":"hl"},"mark":{"type":"rule","color":"#3ad83a","strokeWidth":1.1},
 "encoding":{
  "y":{"field":"p","type":"quantitative","scale":{"domain":[1.37245,1.39479],"nice":false,"zero":false},"title":null,
   "axis":{"orient":"right","values":[1.374,1.376,1.378,1.38,1.382,1.384,1.386,1.388,1.39,1.392,1.394],"tickCount":100,
    "labelExpr":"replace(format(datum.value,'.4f'),'.',',')","labelOverlap":false}},
  "strokeDash":{"field":"k","type":"nominal","scale":{"domain":["solid","dot","dash"],"range":[[1,0],[1,2],[4,2]]},"legend":null}
 }},
{"data":{"name":"tl"},"mark":{"type":"line","color":"#3ad83a","strokeWidth":1.1,"clip":true},
 "encoding":{
  "x":{"field":"t","type":"quantitative","scale":{"domain":[16.73,44.4],"nice":false,"zero":false},"title":null,
   "axis":{"orient":"bottom","values":[18,19,20,21,22,23,24,25,26,27,28,29,30,31,32,33,34,35,36,37,38,39,40,41,42,43,44],"tickCount":100,
    "labelExpr":"datum.value == 18 ? ['18:00','Sep/15/11'] : datum.value == 24 ? ['00:00','16'] : ((datum.value % 24) < 10 ? '0' : '') + (datum.value % 24) + ':00'","labelOverlap":false}},
  "y":{"field":"v","type":"quantitative","scale":{"domain":[1.37245,1.39479],"nice":false,"zero":false},"title":null},
  "detail":{"field":"g"}
 }},
{"mark":{"type":"rule","color":"#4a6cff","strokeDash":[3,2],"strokeWidth":1},
 "encoding":{"y":{"datum":1.37945,"type":"quantitative"}}},
{"data":{"name":"ind"},"mark":{"type":"line","strokeWidth":1,"clip":true,"interpolate":"monotone"},
 "encoding":{
  "x":{"field":"t","type":"quantitative","scale":{"domain":[16.73,44.4],"nice":false,"zero":false},"title":null},
  "y":{"field":"v","type":"quantitative","scale":{"domain":[1.37245,1.39479],"nice":false,"zero":false},"title":null},
  "detail":{"field":"s"},
  "color":{"field":"s","type":"nominal","legend":null,"scale":{"domain":["MA21","MA55","MA110","MA233","BBU","BBL","SAR1","SAR2","BOL"],"range":["#2a3af0","#e0301c","#2ea82e","#f7b468","#5c62a8","#5c62a8","#111111","#ee4a2a","#3040b8"]}}
 }},
{"data":{"name":"sar"},"mark":{"type":"line","strokeWidth":1.1,"strokeDash":[1,1.6],"clip":true,"interpolate":"monotone"},
 "encoding":{
  "x":{"field":"t","type":"quantitative","scale":{"domain":[16.73,44.4],"nice":false,"zero":false},"title":null},
  "y":{"field":"v","type":"quantitative","scale":{"domain":[1.37245,1.39479],"nice":false,"zero":false},"title":null},
  "detail":{"field":"g"},
  "color":{"field":"s","type":"nominal","legend":null,"scale":{"domain":["MA21","MA55","MA110","MA233","BBU","BBL","SAR1","SAR2","BOL"],"range":["#2a3af0","#e0301c","#2ea82e","#f7b468","#5c62a8","#5c62a8","#111111","#ee4a2a","#3040b8"]}}
 }},
{"data":{"name":"bars"},"mark":{"type":"rule","color":"#1a1a1a","strokeWidth":0.8,"clip":true},
 "encoding":{
  "x":{"field":"t","type":"quantitative","scale":{"domain":[16.73,44.4],"nice":false,"zero":false},"title":null},
  "y":{"field":"l","type":"quantitative","scale":{"domain":[1.37245,1.39479],"nice":false,"zero":false},"title":null},
  "y2":{"field":"h"}
 }},
{"data":{"name":"bars"},"mark":{"type":"bar","width":2.4,"clip":true,"stroke":"#222222","strokeWidth":0.3},
 "encoding":{
  "x":{"field":"t","type":"quantitative","scale":{"domain":[16.73,44.4],"nice":false,"zero":false},"title":null},
  "y":{"field":"o","type":"quantitative","scale":{"domain":[1.37245,1.39479],"nice":false,"zero":false},"title":null},
  "y2":{"field":"c"},
  "color":{"condition":{"test":"datum.c >= datum.o","value":"#1e9e1e"},"value":"#b82020"}
 }},
{"data":{"name":"hdr"},"mark":{"type":"text","align":"left","baseline":"bottom","dy":-0.5,"fontSize":4.7},
 "encoding":{
  "x":{"field":"t","type":"quantitative","scale":{"domain":[16.73,44.4],"nice":false,"zero":false},"title":null},
  "y":{"datum":1.39479,"type":"quantitative"},
  "text":{"field":"txt"},
  "color":{"field":"s","type":"nominal","legend":null,"scale":{"domain":["MA21","MA55","MA110","MA233","BBU","BBL","SAR1","SAR2","BOL"],"range":["#2a3af0","#e0301c","#2ea82e","#f7b468","#5c62a8","#5c62a8","#111111","#ee4a2a","#3040b8"]}}
 }},
{"data":{"name":"fib"},"mark":{"type":"text","align":"left","baseline":"bottom","dy":-1.5,"fontSize":5,"color":"#2cb82c"},
 "encoding":{
  "x":{"field":"t","type":"quantitative","scale":{"domain":[16.73,44.4],"nice":false,"zero":false},"title":null},
  "y":{"field":"p","type":"quantitative","scale":{"domain":[1.37245,1.39479],"nice":false,"zero":false},"title":null},
  "text":{"field":"txt"}
 }},
{"mark":{"type":"text","align":"right","baseline":"middle","dx":-1,"fontSize":5,"color":"#2cb82c","text":"1,3846"},
 "encoding":{"x":{"datum":44.4,"type":"quantitative"},"y":{"datum":1.3846,"type":"quantitative"}}},
{"mark":{"type":"rect","fill":"#ffffff","stroke":"#e03030","strokeWidth":0.8},
 "encoding":{"x":{"datum":44.42,"type":"quantitative"},"x2":{"datum":45.45},"y":{"datum":1.3799,"type":"quantitative"},"y2":{"datum":1.37895}}},
{"mark":{"type":"text","align":"left","baseline":"middle","dx":2,"fontSize":5.4,"color":"#2040ff","text":"1,3794"},
 "encoding":{"x":{"datum":44.42,"type":"quantitative"},"y":{"datum":1.37943,"type":"quantitative"}}}
]
},
{
"width":597,"height":71,
"layer":[
{"data":{"name":"bars"},"mark":{"type":"bar","width":2.4,"color":"#3e3e3e","clip":true},
 "encoding":{
  "x":{"field":"t","type":"quantitative","scale":{"domain":[16.73,44.4],"nice":false,"zero":false},"title":null,
   "axis":{"values":[18,19,20,21,22,23,24,25,26,27,28,29,30,31,32,33,34,35,36,37,38,39,40,41,42,43,44],"tickCount":100,"labels":false,"ticks":false,"domain":false}},
  "y":{"field":"m","type":"quantitative","scale":{"domain":[-0.00192,0.00143],"nice":false,"zero":false},"title":null,
   "axis":{"orient":"right","values":[-0.0015,-0.001,-0.0005,0,0.0005,0.001],"tickCount":100,
    "labelExpr":"(datum.value < 0 ? '-' : '') + replace(format(abs(datum.value),'.4f'),'.',',')","labelOverlap":false}}
 }},
{"data":{"name":"macd"},"mark":{"type":"line","strokeWidth":1,"clip":true,"interpolate":"monotone"},
 "encoding":{
  "x":{"field":"t","type":"quantitative","scale":{"domain":[16.73,44.4],"nice":false,"zero":false},"title":null},
  "y":{"field":"v","type":"quantitative","scale":{"domain":[-0.00192,0.00143],"nice":false,"zero":false},"title":null},
  "color":{"field":"q","type":"nominal","legend":null,"scale":{"domain":["MACD","SIG","HIST","SAR3"],"range":["#7878ff","#f08a58","#666666","#2aa82a"]}}
 }},
{"data":{"name":"sar3"},"mark":{"type":"line","strokeWidth":1.1,"strokeDash":[1,1.6],"color":"#2aa82a","clip":true,"interpolate":"monotone"},
 "encoding":{
  "x":{"field":"t","type":"quantitative","scale":{"domain":[16.73,44.4],"nice":false,"zero":false},"title":null},
  "y":{"field":"v","type":"quantitative","scale":{"domain":[-0.00192,0.00143],"nice":false,"zero":false},"title":null},
  "detail":{"field":"g"}
 }},
{"data":{"name":"mhdr"},"mark":{"type":"text","align":"left","baseline":"top","dy":1,"fontSize":4.7},
 "encoding":{
  "x":{"field":"t","type":"quantitative","scale":{"domain":[16.73,44.4],"nice":false,"zero":false},"title":null},
  "y":{"datum":0.00143,"type":"quantitative"},
  "text":{"field":"txt"},
  "color":{"field":"q","type":"nominal","legend":null,"scale":{"domain":["MACD","SIG","HIST","SAR3"],"range":["#7878ff","#f08a58","#666666","#2aa82a"]}}
 }},
{"mark":{"type":"rect","fill":"#ffffff","stroke":"#e03030","strokeWidth":0.8},
 "encoding":{"x":{"datum":44.42,"type":"quantitative"},"x2":{"datum":45.45},"y":{"datum":-0.00016,"type":"quantitative"},"y2":{"datum":-0.00046}}},
{"mark":{"type":"text","align":"left","baseline":"middle","dx":2,"fontSize":5.4,"color":"#2040ff","text":"-0,0003"},
 "encoding":{"x":{"datum":44.42,"type":"quantitative"},"y":{"datum":-0.00031,"type":"quantitative"}}}
]
}
]
}
